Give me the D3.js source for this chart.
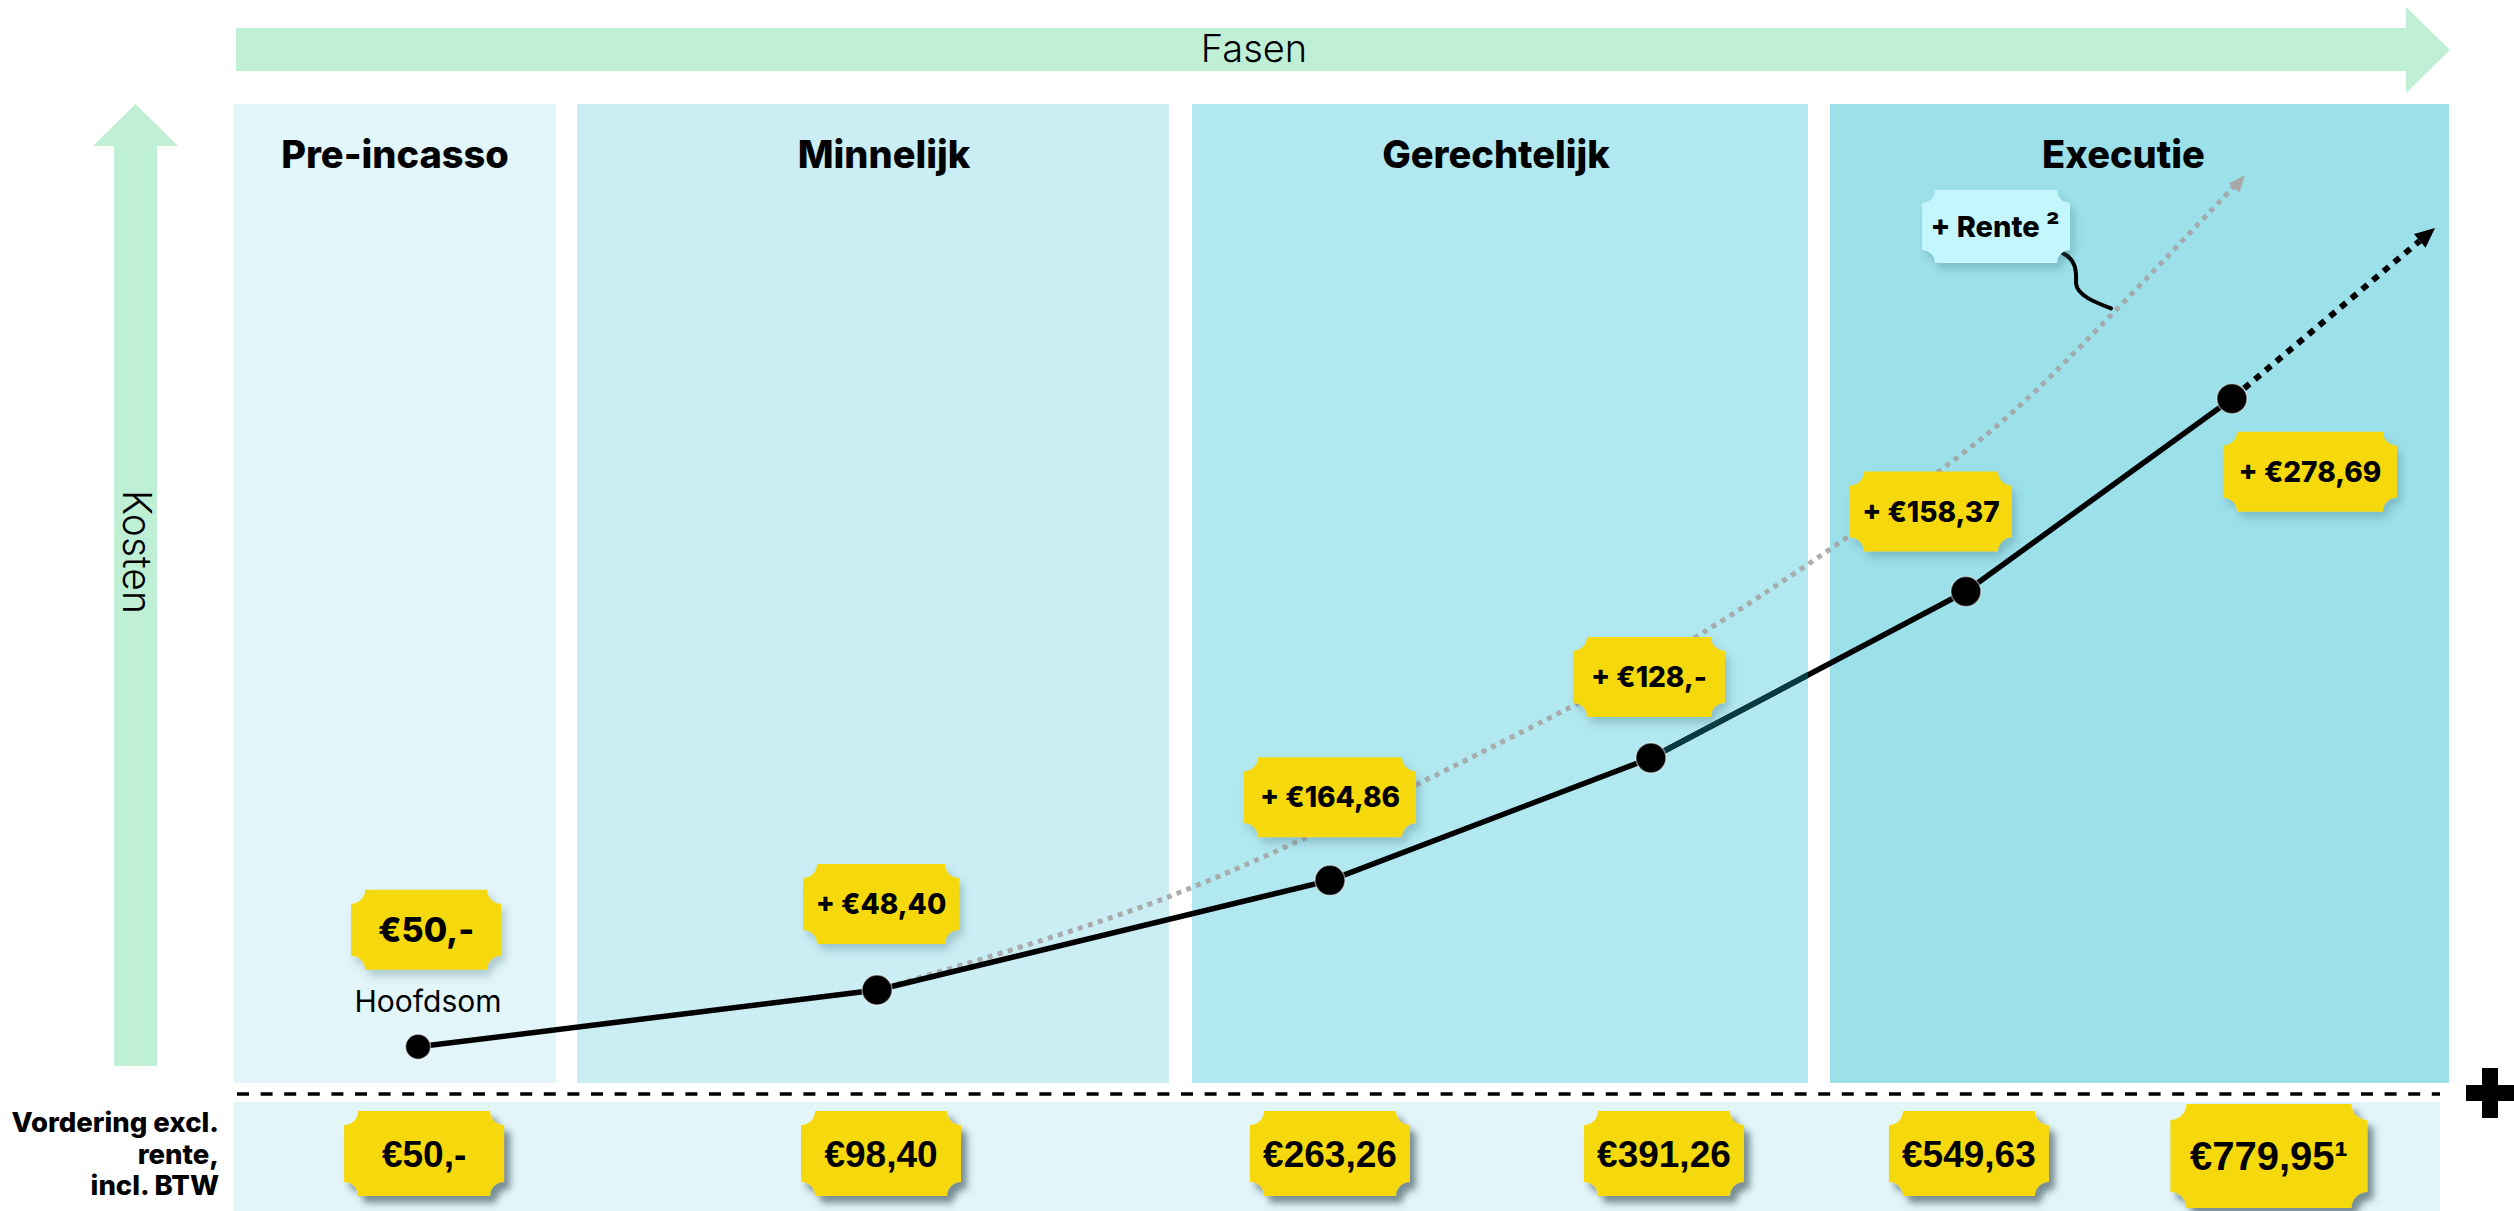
<!DOCTYPE html>
<html><head><meta charset="utf-8">
<script src="https://cdn.jsdelivr.net/npm/d3@7"></script>
<style>html,body{margin:0;padding:0;background:#fff;overflow:hidden}</style>
</head><body>
<svg id="chart" width="2514" height="1211"></svg>
<script>
// ---------- data ----------
const phases = ["Pre-incasso", "Minnelijk", "Gerechtelijk", "Executie"];
const phaseStart = [0, 15.49, 43.25, 72.05];
const phaseEnd = [14.54, 42.21, 71.06, 100];
const stepX = [8.31, 29.03, 49.48, 63.97, 78.19, 90.2];          // fase-voortgang
const stepLevel = [3.7, 9.5, 20.7, 33.2, 50.2, 69.9];             // schematisch kostenniveau
const stepCosts = ["€50,-", "+ €48,40", "+ €164,86", "+ €128,-", "+ €158,37", "+ €278,69"];
const totals = ["€50,-", "€98,40", "€263,26", "€391,26", "€549,63", "€779,95¹"];
const renteX = [29.03, 42.17, 57.16, 66.14, 76.93, 80.90, 90.79];
const renteLevel = [9.5, 19.0, 34.73, 45.76, 62.41, 69.77, 92.75];
const trendX = [90.2, 99.37];
const trendLevel = [69.9, 87.33];
const axisX = "Fasen", axisY = "Kosten";
const startLabel = "Hoofdsom";
const renteLabel = "+ Rente ²";
const rowLabel = ["Vordering excl.", "rente,", "incl. BTW"];

// ---------- layout ----------
const W = 2514, H = 1211;
const svg = d3.select("#chart");
const x = d3.scaleLinear().domain([0, 100]).range([234, 2449]);
const y = d3.scaleLinear().domain([0, 100]).range([1083, 104]);
const colColors = ["#e2f5f9", "#cbeef4", "#b2e8f0", "#9ce0ea"];
const green = "#bfefd4", yellow = "#f6d90b";
const headerShift = [0, 11, -4, -16];
const topOff = [[8, -117], [4, -86], [0, -83], [-2, -81], [-35, -80], [78, 73]];
const topW = [150, 156, 172, 152, 162, 174];
const botShift = [6, 4, 0, 13, 3, 37];
const fontMain = "Inter, 'Open Sans', sans-serif";

const defs = svg.append("defs");
const f1 = defs.append("filter").attr("id", "shTop").attr("x", "-30%").attr("y", "-30%").attr("width", "170%").attr("height", "180%");
f1.append("feDropShadow").attr("dx", 4).attr("dy", 6).attr("stdDeviation", 4).attr("flood-color", "#3d6f7a").attr("flood-opacity", 0.33);
const f2 = defs.append("filter").attr("id", "shBot").attr("x", "-30%").attr("y", "-30%").attr("width", "170%").attr("height", "180%");
f2.append("feDropShadow").attr("dx", 6).attr("dy", 7).attr("stdDeviation", 3.5).attr("flood-color", "#2e4650").attr("flood-opacity", 0.6);

function ticketPath(w, h, r) {
  const x0 = -w / 2, x1 = w / 2, y0 = -h / 2, y1 = h / 2;
  return `M${x0 + r},${y0}H${x1 - r}A${r},${r} 0 0 0 ${x1},${y0 + r}V${y1 - r}A${r},${r} 0 0 0 ${x1 - r},${y1}H${x0 + r}A${r},${r} 0 0 0 ${x0},${y1 - r}V${y0 + r}A${r},${r} 0 0 0 ${x0 + r},${y0}Z`;
}

// ---------- Fasen arrow ----------
const fasenY0 = 28, fasenY1 = 71;
svg.append("path")
  .attr("d", `M${x(0) + 2},${fasenY0}H2406V7L2450,50L2406,93V${fasenY1}H${x(0) + 2}Z`)
  .attr("fill", green);
svg.append("text").text(axisX)
  .attr("x", 1254).attr("y", 62).attr("text-anchor", "middle")
  .attr("font-family", fontMain).attr("font-weight", 300).attr("font-size", 38).attr("fill", "#000");

// ---------- Kosten arrow ----------
svg.append("path")
  .attr("d", `M114,1066V146H93L135.5,104L178,146H157V1066Z`)
  .attr("fill", green);
svg.append("text").text(axisY)
  .attr("transform", "translate(137,552) rotate(90)")
  .attr("text-anchor", "middle").attr("dominant-baseline", "central")
  .attr("font-family", fontMain).attr("font-weight", 300).attr("font-size", 39).attr("fill", "#000");

// ---------- phase columns ----------
const cols = svg.append("g");
cols.selectAll("rect").data(phases).join("rect")
  .attr("x", (d, i) => x(phaseStart[i]))
  .attr("width", (d, i) => x(phaseEnd[i]) - x(phaseStart[i]))
  .attr("y", y(100)).attr("height", y(0) - y(100))
  .attr("fill", (d, i) => colColors[i]);
cols.selectAll("text").data(phases).join("text")
  .text(d => d)
  .attr("x", (d, i) => (x(phaseStart[i]) + x(phaseEnd[i])) / 2 + headerShift[i])
  .attr("y", 168).attr("text-anchor", "middle")
  .attr("font-family", fontMain).attr("font-weight", 800).attr("font-size", 38).attr("fill", "#000");

// ---------- bottom band ----------
svg.append("rect").attr("x", x(0)).attr("y", 1102).attr("width", 2440 - x(0)).attr("height", H - 1102).attr("fill", "#e2f5f9");
svg.append("line").attr("x1", 237).attr("x2", 2440).attr("y1", 1094).attr("y2", 1094)
  .attr("stroke", "#000").attr("stroke-width", 3.5).attr("stroke-dasharray", "12,11.6");
// plus sign
svg.append("path").attr("d", "M2466,1085H2482V1068H2498V1085H2514V1101H2498V1118H2482V1101H2466Z").attr("fill", "#000");

// row label
const rl = svg.append("text").attr("text-anchor", "end")
  .attr("font-family", fontMain).attr("font-weight", 800).attr("font-size", 27.5).attr("fill", "#000");
rl.selectAll("tspan").data(rowLabel).join("tspan")
  .attr("x", 219).attr("y", (d, i) => 1132 + i * 31.5).text(d => d);

// ---------- rente curve (grey dotted) ----------
const renteData = renteX.map((v, i) => [x(v), y(renteLevel[i])]);
svg.append("path")
  .attr("d", d3.line().curve(d3.curveCatmullRom.alpha(0.5))(renteData.slice(0, -1).concat([[renteData[renteData.length - 1][0] - 6, renteData[renteData.length - 1][1] + 6]])))
  .attr("fill", "none").attr("stroke", "#a4a4a4").attr("stroke-width", 5).attr("stroke-dasharray", "5,5.5").attr("opacity", 0.9);
{
  const tip = renteData[renteData.length - 1], prev = renteData[renteData.length - 2];
  const a = Math.atan2(tip[1] - prev[1], tip[0] - prev[0]) - 0.08;
  const L = 17, hw = 7;
  const bx = tip[0] - L * Math.cos(a), by = tip[1] - L * Math.sin(a);
  svg.append("path")
    .attr("d", `M${tip[0]},${tip[1]}L${bx + hw * Math.sin(a)},${by - hw * Math.cos(a)}L${bx - hw * Math.sin(a)},${by + hw * Math.cos(a)}Z`)
    .attr("fill", "#a8a8a8");
}

// ---------- main cost line ----------
const pts = stepX.map((v, i) => [x(v), y(stepLevel[i])]);
const lineGen = d3.line().curve(d3.curveLinear);
svg.append("path").attr("d", lineGen(pts)).attr("fill", "none").attr("stroke", "#000").attr("stroke-width", 5.5).attr("stroke-linejoin", "round");
// dark teal tint section (as in reference)
defs.append("clipPath").attr("id", "tealClip").append("rect")
  .attr("x", pts[3][0]).attr("y", 0).attr("width", x(phaseEnd[2]) - pts[3][0]).attr("height", H);
svg.append("path").attr("d", lineGen(pts)).attr("fill", "none").attr("stroke", "#063b41").attr("stroke-width", 5.5)
  .attr("clip-path", "url(#tealClip)");

// trend extension (black dotted + arrow)
{
  const p = [x(trendX[0]), y(trendLevel[0])], t = [x(trendX[1]), y(trendLevel[1])];
  const a = Math.atan2(t[1] - p[1], t[0] - p[0]);
  const L = 20, hw = 9;
  const bx = t[0] - L * Math.cos(a), by = t[1] - L * Math.sin(a);
  svg.append("line").attr("x1", p[0] + 16 * Math.cos(a)).attr("y1", p[1] + 16 * Math.sin(a))
    .attr("x2", bx).attr("y2", by)
    .attr("stroke", "#000").attr("stroke-width", 6).attr("stroke-dasharray", "7,7");
  svg.append("path")
    .attr("d", `M${t[0]},${t[1]}L${bx + hw * Math.sin(a)},${by - hw * Math.cos(a)}L${bx - hw * Math.sin(a)},${by + hw * Math.cos(a)}Z`)
    .attr("fill", "#000");
}

// points
svg.append("g").selectAll("circle").data(pts).join("circle")
  .attr("cx", d => d[0]).attr("cy", d => d[1])
  .attr("r", (d, i) => i === 0 ? 12.5 : 15)
  .attr("fill", "#000").attr("stroke", "rgba(255,255,255,0.45)").attr("stroke-width", 1.5);

// Hoofdsom label
svg.append("text").text(startLabel)
  .attr("x", pts[0][0] + 10).attr("y", pts[0][1] - 35).attr("text-anchor", "middle")
  .attr("font-family", fontMain).attr("font-weight", 400).attr("font-size", 30).attr("fill", "#000");

// ---------- step cost tickets ----------
const tg = svg.append("g").selectAll("g").data(stepCosts).join("g")
  .attr("transform", (d, i) => `translate(${pts[i][0] + topOff[i][0]},${pts[i][1] + topOff[i][1]})`);
tg.append("path").attr("d", (d, i) => ticketPath(topW[i], 80, 14)).attr("fill", yellow).attr("filter", "url(#shTop)");
tg.append("text").text(d => d)
  .attr("text-anchor", "middle")
  .attr("y", (d, i) => i === 0 ? 12 : 10)
  .attr("font-family", fontMain).attr("font-weight", 800)
  .attr("font-size", (d, i) => i === 0 ? 34 : 28).attr("fill", "#000");

// ---------- Rente tag ----------
{
  const cx = x(79.55), cy = y(87.5);
  const g = svg.append("g").attr("transform", `translate(${cx},${cy})`);
  g.append("path").attr("d", `M67,27C82,34 80,49 80,57C81,69 99,76 115,82`)
    .attr("fill", "none").attr("stroke", "#000").attr("stroke-width", 4).attr("stroke-linecap", "round");
  g.append("path").attr("d", ticketPath(148, 73, 13)).attr("fill", "#c4f6fe").attr("filter", "url(#shTop)");
  g.append("text").text(renteLabel).attr("text-anchor", "middle").attr("x", -1).attr("y", 10.5)
    .attr("font-family", fontMain).attr("font-weight", 800).attr("font-size", 29).attr("fill", "#000");
}

// ---------- bottom totals tickets ----------
const bg = svg.append("g").selectAll("g").data(totals).join("g")
  .attr("transform", (d, i) => `translate(${pts[i][0] + botShift[i]},${i === 5 ? 1156 : 1153.5})`);
bg.append("path").attr("d", (d, i) => i === 5 ? ticketPath(197, 104, 16) : ticketPath(160, 85, 14))
  .attr("fill", yellow).attr("filter", "url(#shBot)");
bg.append("text").text(d => d)
  .attr("text-anchor", "middle")
  .attr("y", (d, i) => i === 5 ? 14 : 13)
  .attr("font-family", "'Liberation Sans', Arial, sans-serif").attr("font-weight", 700)
  .attr("font-size", (d, i) => i === 5 ? 40 : 37).attr("fill", "#000");
</script>
</body></html>
